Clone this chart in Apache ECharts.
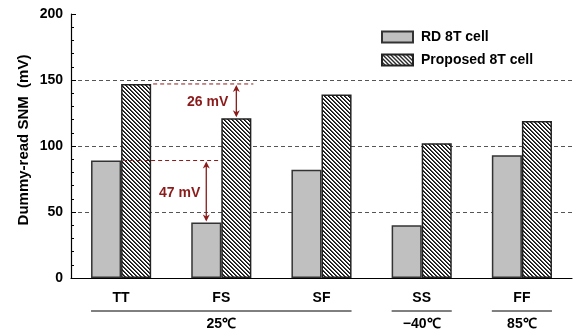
<!DOCTYPE html>
<html><head><meta charset="utf-8">
<script src="https://cdn.jsdelivr.net/npm/echarts@6/dist/echarts.min.js"></script>
<style>html,body{margin:0;padding:0;background:#fff}#c{width:575px;height:336px}</style>
</head><body><div id="c"></div>
<script>
var categories = ['TT', 'FS', 'SF', 'SS', 'FF'];
var rdValues = [89, 42, 82, 40, 93];
var proposedValues = [147, 121, 139, 102, 119];
var yTicks = [0, 50, 100, 150, 200];
var tempGroups = [
  {label: '25\u2103', from: 0, to: 2},
  {label: '\u221240\u2103', from: 3, to: 3},
  {label: '85\u2103', from: 4, to: 4}
];
var annotations = [
  {cat: 1, top: 147, bottom: 121, text: '26 mV'},
  {cat: 1, top: 89, bottom: 42, text: '47 mV'}
];

var FONT = "'Liberation Sans Narrow', 'Liberation Sans', Arial, sans-serif";
var RED = '#8b1a1a';
var FS = 14;

// hatch pattern
var pc = document.createElement('canvas');
pc.width = 4; pc.height = 4;
var pctx = pc.getContext('2d');
var img = pctx.createImageData(4, 4);
for (var y = 0; y < 4; y++) for (var x = 0; x < 4; x++) {
  var k = ((x - y) % 4 + 4) % 4;
  var v = k === 0 ? 15 : (k === 1 ? 70 : 255);
  var i = (y * 4 + x) * 4;
  img.data[i] = v; img.data[i+1] = v; img.data[i+2] = v; img.data[i+3] = 255;
}
pctx.putImageData(img, 0, 0);

var chart = echarts.init(document.getElementById('c'), null, {renderer: 'canvas'});
var option = {
  animation: false,
  textStyle: {fontFamily: FONT},
  grid: {left: 71, right: 3, top: 14, bottom: 58},
  legend: {
    orient: 'vertical', left: 381, top: 30, padding: 0, itemWidth: 31, itemHeight: 11, itemGap: 9,
    icon: 'rect',
    textStyle: {fontFamily: FONT, fontSize: FS, fontWeight: 'bold', color: '#000', padding: [0, 0, 0, 3]},
    data: ['RD 8T cell', 'Proposed 8T cell']
  },
  xAxis: {
    type: 'category', data: categories,
    axisLine: {lineStyle: {color: '#000', width: 1.2}},
    axisTick: {inside: true, length: 5, lineStyle: {color: '#000'}},
    axisLabel: {fontFamily: FONT, fontSize: FS, fontWeight: 'bold', color: '#000', margin: 13}
  },
  yAxis: {
    type: 'value', min: 0, max: 200, interval: 50,
    axisLine: {show: true, lineStyle: {color: '#000', width: 1.2}},
    axisTick: {show: true, inside: true, length: 5, lineStyle: {color: '#000'}},
    minorTick: {show: true, splitNumber: 5, length: 3, lineStyle: {color: '#000'}},
    axisLabel: {fontFamily: FONT, fontSize: FS, fontWeight: 'bold', color: '#000', margin: 8},
    splitLine: {show: true, showMinLine: false, showMaxLine: false, lineStyle: {color: '#555', type: [4, 3], width: 1}}
  },
  series: [
    {name: 'RD 8T cell', type: 'bar', data: rdValues, barWidth: '30%', barGap: '0%',
     itemStyle: {color: '#c0c0c0', borderColor: '#333', borderWidth: 1.5}},
    {name: 'Proposed 8T cell', type: 'bar', data: proposedValues, barWidth: '30%', barGap: '0%',
     itemStyle: {color: {image: pc, repeat: 'repeat'}, borderColor: '#222', borderWidth: 1.5}}
  ]
};
chart.setOption(option);

function px(cat, val) { return chart.convertToPixel({gridIndex: 0}, [cat, val]); }
var c0 = px(0, 0), c1 = px(1, 0);
var band = c1[0] - c0[0];
var bw = band * 0.3;
var g = [];

// y axis name
g.push({type: 'text', x: 24, y: 140, rotation: Math.PI / 2,
  style: {text: 'Dummy-read SNM  (mV)', fontFamily: FONT, fontSize: 15, fontWeight: 'bold', fill: '#000', align: 'center', verticalAlign: 'middle'}});

// temperature groups
var base = c0[1];
tempGroups.forEach(function (tg) {
  var xl = px(tg.from, 0)[0] - bw, xr = px(tg.to, 0)[0] + bw;
  g.push({type: 'line', shape: {x1: xl, y1: base + 33, x2: xr, y2: base + 33}, style: {stroke: '#000', lineWidth: 1}});
  g.push({type: 'text', x: (xl + xr) / 2, y: base + 46,
    style: {text: tg.label, fontFamily: FONT, fontSize: FS, fontWeight: 'bold', fill: '#000', align: 'center', verticalAlign: 'middle'}});
});

// annotations
var Z = 100;
function arrow(x, y1, y2) {
  var h = 7, w = 3.5;
  g.push({type: 'line', z: Z, shape: {x1: x, y1: y1 + 2, x2: x, y2: y2 - 2}, style: {stroke: RED, lineWidth: 1.3}});
  g.push({type: 'polygon', z: Z, shape: {points: [[x, y1], [x - w, y1 + h], [x, y1 + h - 2], [x + w, y1 + h]]}, style: {fill: RED}});
  g.push({type: 'polygon', z: Z, shape: {points: [[x, y2], [x - w, y2 - h], [x, y2 - h + 2], [x + w, y2 - h]]}, style: {fill: RED}});
}
var a = annotations[0];
var yTop = px(0, a.top)[1], yBot = px(1, a.bottom)[1];
var xs = px(0, 0)[0] + bw + 2, xe = px(1, 0)[0] + bw + 2;
g.push({type: 'line', z: Z, shape: {x1: xs, y1: yTop, x2: xe, y2: yTop}, style: {stroke: RED, lineWidth: 1, lineDash: [4, 3]}});
var ax = px(1, 0)[0] + bw / 2;
arrow(ax, yTop + 1, yBot - 1);
g.push({type: 'text', z: Z, x: ax - 8, y: (yTop + yBot) / 2 + 1,
  style: {text: a.text, fontFamily: FONT, fontSize: FS, fontWeight: 'bold', fill: RED, align: 'right', verticalAlign: 'middle'}});
var b = annotations[1];
var yT2 = px(0, b.top)[1], yB2 = px(1, b.bottom)[1];
g.push({type: 'line', z: Z, shape: {x1: px(0, 0)[0] + 2, y1: yT2, x2: px(1, 0)[0], y2: yT2}, style: {stroke: RED, lineWidth: 1, lineDash: [4, 3]}});
var bx = px(1, 0)[0] - bw / 2;
arrow(bx, yT2 + 1, yB2 - 1);
g.push({type: 'text', z: Z, x: bx - 6, y: (yT2 + yB2) / 2 + 2,
  style: {text: b.text, fontFamily: FONT, fontSize: FS, fontWeight: 'bold', fill: RED, align: 'right', verticalAlign: 'middle'}});

chart.setOption({graphic: {elements: g}});
</script></body></html>
